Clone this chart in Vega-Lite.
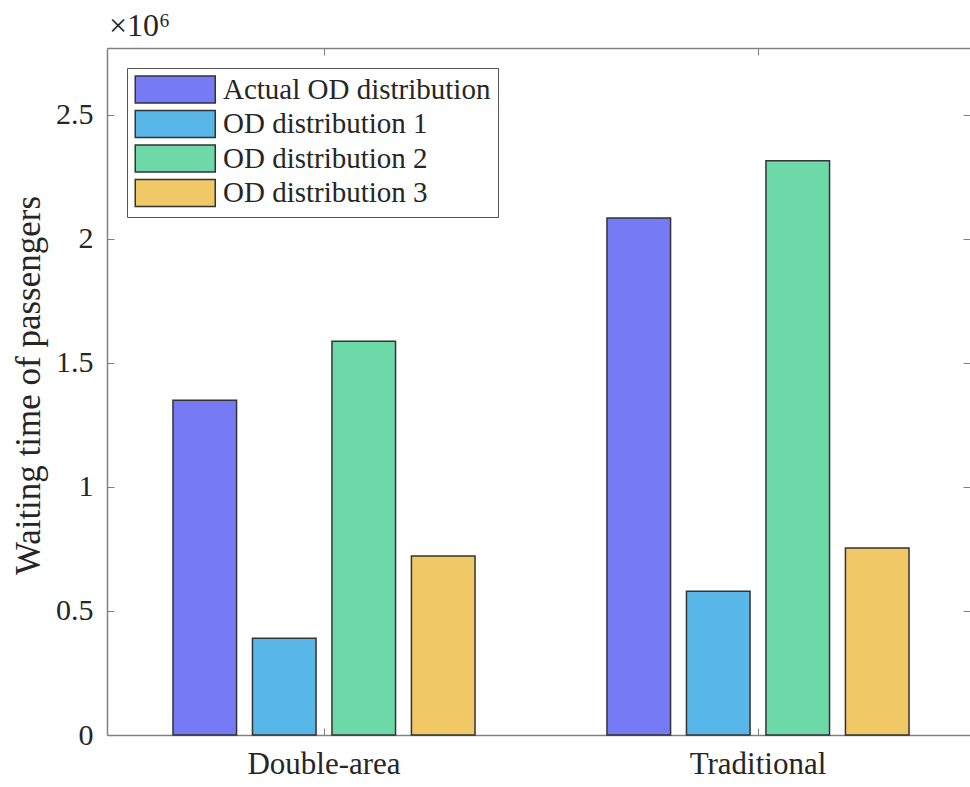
{
  "$schema": "https://vega.github.io/schema/vega-lite/v6.json",
  "width": 863,
  "height": 687,
  "autosize": "none",
  "padding": {"left": 107, "top": 48, "right": 0, "bottom": 52},
  "background": "white",
  "title": {"text": "×10⁶", "anchor": "start", "frame": "group", "font": "Liberation Serif", "fontSize": 32, "fontWeight": "normal", "color": "#262626", "offset": 5, "dx": 2},
  "data": {"values": [
    {"group": "Double-area", "series": "Actual OD distribution", "value": 1350000},
    {"group": "Double-area", "series": "OD distribution 1", "value": 390000},
    {"group": "Double-area", "series": "OD distribution 2", "value": 1588000},
    {"group": "Double-area", "series": "OD distribution 3", "value": 722000},
    {"group": "Traditional", "series": "Actual OD distribution", "value": 2085000},
    {"group": "Traditional", "series": "OD distribution 1", "value": 580000},
    {"group": "Traditional", "series": "OD distribution 2", "value": 2315000},
    {"group": "Traditional", "series": "OD distribution 3", "value": 754000}
  ]},
  "layer": [
    {
      "mark": {"type": "bar", "stroke": "#333333", "strokeWidth": 1.5},
      "encoding": {
        "x": {"field": "group", "type": "nominal", "scale": {"paddingInner": 0, "paddingOuter": 0, "range": [0, 868]},
          "axis": {"title": null, "labelAngle": 0, "orient": "bottom", "tickSize": -7, "labelPadding": 21, "domainColor": "#808080", "tickColor": "#808080", "labelFont": "Liberation Serif", "labelFontSize": 31, "labelColor": "#262626", "domainWidth": 1.5}},
        "xOffset": {"field": "series", "type": "nominal", "scale": {"paddingInner": 0.2, "paddingOuter": 0.83}},
        "y": {"field": "value", "type": "quantitative", "scale": {"domain": [0, 2770000], "nice": false, "zero": true},
          "axis": {"title": "Waiting time of passengers", "titleY": 337, "values": [0, 500000, 1000000, 1500000, 2000000, 2500000], "labelExpr": "'' + (datum.value / 1000000)", "orient": "left", "grid": false, "tickSize": -7, "labelPadding": 21, "domainColor": "#808080", "tickColor": "#808080", "labelFont": "Liberation Serif", "labelFontSize": 30, "labelColor": "#262626", "titleFont": "Liberation Serif", "titleFontSize": 35, "titleFontWeight": "normal", "titleColor": "#262626", "titlePadding": 9, "domainWidth": 1.5}},
        "color": {"field": "series", "type": "nominal",
          "scale": {"domain": ["Actual OD distribution", "OD distribution 1", "OD distribution 2", "OD distribution 3"], "range": ["#767BF5", "#58B6E8", "#6DD8A8", "#F0C866"]},
          "legend": {"title": null, "orient": "top-left", "offset": 20, "symbolType": "M-1.06,-1.08H5.34V1.08H-1.06Z", "symbolSize": 625, "symbolStrokeColor": "#333333", "symbolStrokeWidth": 1.5, "symbolOpacity": 1, "labelFont": "Liberation Serif", "labelFontSize": 29, "labelColor": "#262626", "labelOffset": 60, "strokeColor": "#555555", "fillColor": "white", "padding": 7, "rowPadding": 1.5, "labelLimit": 400}}
      }
    },
    {
      "mark": {"type": "bar", "opacity": 0},
      "encoding": {
        "x": {"field": "group", "type": "nominal", "axis": {"title": null, "orient": "top", "labels": false, "tickSize": -7, "domainColor": "#808080", "tickColor": "#808080", "domainWidth": 1.5}},
        "xOffset": {"field": "series", "type": "nominal"},
        "y": {"field": "value", "type": "quantitative", "axis": {"title": null, "orient": "right", "labels": false, "domain": false, "grid": false, "tickSize": -7, "tickColor": "#808080", "values": [0, 500000, 1000000, 1500000, 2000000, 2500000]}}
      }
    }
  ],
  "resolve": {"axis": {"x": "independent", "y": "independent"}},
  "config": {"view": {"stroke": null}}
}
